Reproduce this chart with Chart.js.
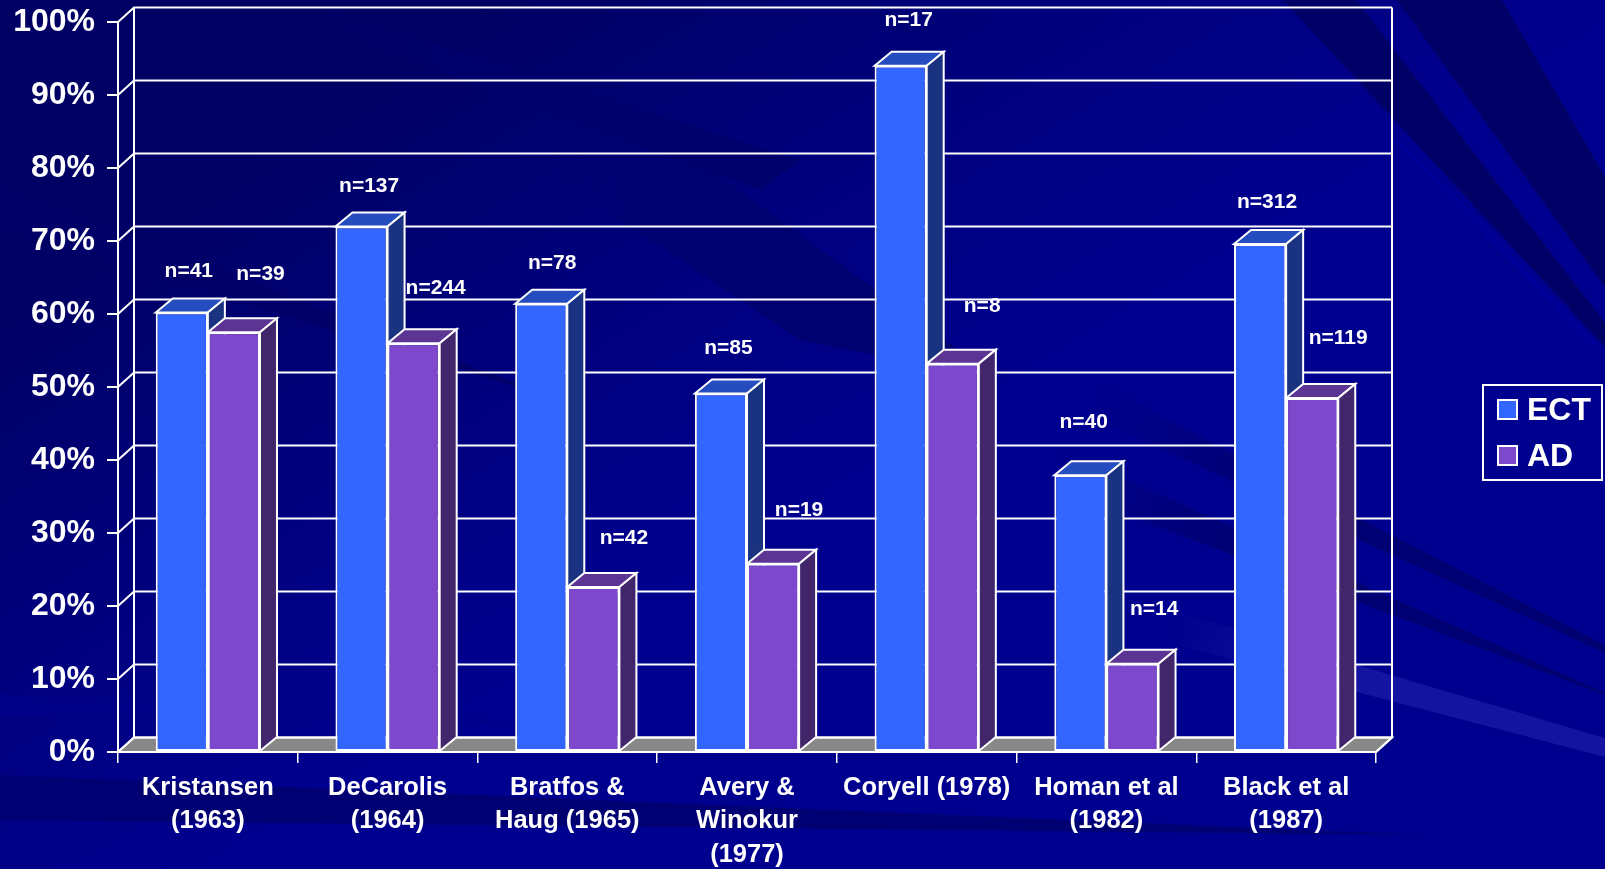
<!DOCTYPE html>
<html>
<head>
<meta charset="utf-8">
<title>ECT vs AD</title>
<style>
html,body{margin:0;padding:0;background:#000088;overflow:hidden}
canvas{display:block}
</style>
<script src="https://cdn.jsdelivr.net/npm/chart.js@4"></script>
</head>
<body>
<canvas id="chart" width="1605" height="869"></canvas>
<script>
// values
const categories = [
    ['Kristansen', '(1963)'],
    ['DeCarolis', '(1964)'],
    ['Bratfos &', 'Haug (1965)'],
    ['Avery &', 'Winokur', '(1977)'],
    'Coryell (1978)',
    ['Homan et al', '(1982)'],
    ['Black et al', '(1987)']
];
const ectValues = [60.2, 72, 61.4, 49.1, 94, 37.9, 69.6];
const adValues = [57.5, 56, 22.6, 25.8, 53.2, 12.1, 48.5];
const ectN = [41, 137, 78, 85, 17, 40, 312];
const adN = [39, 244, 42, 19, 8, 14, 119];

// where the n= labels sit relative to the top of their bar
const ectLabelDx = [7, 7.6, 11, 7.5, 8, 3.3, 7];
const ectLabelDy = [-41.5, -40, -41, -45, -46, -53, -42];
const adLabelDx = [26.6, 22, 30.6, 26, 29.4, 21.7, 26];
const adLabelDy = [-57.7, -55, -49, -53, -57, -54, -60];

const FONT = '"Liberation Sans", Arial, sans-serif';
const WHITE = '#ffffff';
const wallDx = 16, wallDy = 14.5;
const barDx = 17, barDy = 14;

// slide background bands: rgb, corners, and whether the start fades in
const bands = [
    ['0,0,102', [[1397,0],[1502,0],[1605,177],[1605,287]]],
    ['0,0,102', [[1356,0],[1605,323],[1605,347],[1283,0]]],
    ['0,0,150', [[1393,140],[1400,140],[1600,345],[1590,345]], true],
    ['0,0,112', [[560,60],[1000,380],[800,340],[560,180]], true],
    ['0,0,108', [[300,0],[800,160],[760,190],[300,20]], true],
    ['0,0,104', [[0,185],[560,400],[0,228]]],
    ['0,0,114', [[1100,385],[1605,645],[1605,653],[1100,420]], true],
    ['0,0,114', [[1060,450],[1605,693],[1605,695],[1060,490]], true],
    ['20,20,160', [[1170,610],[1605,738],[1605,757],[1170,643]], true],
    ['0,0,114', [[0,775],[1424,835],[0,820]]],
    ['0,0,134', [[0,694],[520,722],[0,716]]]
];

function poly(ctx, pts, fill, stroke) {
    ctx.beginPath();
    pts.forEach(function(p, i) {
        if (i === 0) ctx.moveTo(p[0], p[1]);
        else ctx.lineTo(p[0], p[1]);
    });
    ctx.closePath();
    if (fill) { ctx.fillStyle = fill; ctx.fill(); }
    if (stroke) { ctx.strokeStyle = stroke; ctx.lineWidth = 2; ctx.stroke(); }
}

const backdrop = {
    id: 'backdrop',
    beforeDraw: function(chart) {
        const ctx = chart.ctx;
        const g = ctx.createLinearGradient(500, 0, 800, 500);
        g.addColorStop(0, '#000064');
        g.addColorStop(0.5, '#00007c');
        g.addColorStop(1, '#00008e');
        ctx.save();
        ctx.fillStyle = g;
        ctx.fillRect(0, 0, chart.width, chart.height);
        bands.forEach(function(b) {
            let fill = 'rgb(' + b[0] + ')';
            if (b[2]) {
                const p = b[1];
                const f = ctx.createLinearGradient(p[0][0], p[0][1], p[1][0], p[1][1]);
                f.addColorStop(0, 'rgba(' + b[0] + ',0)');
                f.addColorStop(0.35, fill);
                f.addColorStop(1, fill);
                fill = f;
            }
            poly(ctx, b[1], fill);
        });
        ctx.restore();
    }
};

// back walls, floor and the depth faces of the bars
const walls3d = {
    id: 'walls3d',
    beforeDatasetsDraw: function(chart) {
        const ctx = chart.ctx, y = chart.scales.y, a = chart.chartArea;
        const l = a.left, r = a.right, b = a.bottom;
        ctx.save();
        poly(ctx, [[l,b],[l+wallDx,b-wallDy],[r+wallDx,b-wallDy],[r,b]], '#888888', WHITE);
        ctx.strokeStyle = WHITE;
        ctx.lineWidth = 2;
        y.ticks.forEach(function(t) {
            const py = y.getPixelForValue(t.value);
            ctx.beginPath();
            ctx.moveTo(l, py);
            ctx.lineTo(l + wallDx, py - wallDy);
            ctx.lineTo(r + wallDx, py - wallDy);
            ctx.stroke();
        });
        ctx.beginPath();
        ctx.moveTo(l + wallDx, a.top - wallDy);
        ctx.lineTo(l + wallDx, b - wallDy);
        ctx.moveTo(r + wallDx, a.top - wallDy);
        ctx.lineTo(r + wallDx, b - wallDy);
        ctx.lineTo(r, b);
        ctx.stroke();

        const shades = [['#264dbf', '#1a3380'], ['#5b3494', '#41266b']];
        [0, 1].forEach(function(d) {
            chart.getDatasetMeta(d).data.forEach(function(bar) {
                const p = bar.getProps(['x', 'y', 'base', 'width'], true);
                const x0 = p.x - p.width / 2, x1 = p.x + p.width / 2;
                poly(ctx, [[x0,p.y],[x0+barDx,p.y-barDy],[x1+barDx,p.y-barDy],[x1,p.y]], shades[d][0], WHITE);
                poly(ctx, [[x1,p.y],[x1+barDx,p.y-barDy],[x1+barDx,p.base-barDy],[x1,p.base]], shades[d][1], WHITE);
            });
        });
        ctx.restore();
    },
    afterDatasetsDraw: function(chart) {
        const ctx = chart.ctx;
        ctx.save();
        ctx.fillStyle = WHITE;
        ctx.font = 'bold 21px ' + FONT;
        ctx.textAlign = 'center';
        ctx.textBaseline = 'middle';
        chart.getDatasetMeta(0).data.forEach(function(bar, i) {
            ctx.fillText('n=' + ectN[i], bar.x + ectLabelDx[i], bar.y + ectLabelDy[i]);
        });
        chart.getDatasetMeta(1).data.forEach(function(bar, i) {
            ctx.fillText('n=' + adN[i], bar.x + adLabelDx[i], bar.y + adLabelDy[i]);
        });
        ctx.restore();
    }
};

// legend sits apart from the plot, so it is drawn by hand
const sideLegend = {
    id: 'sideLegend',
    afterDraw: function(chart) {
        const ctx = chart.ctx;
        ctx.save();
        ctx.strokeStyle = WHITE;
        ctx.lineWidth = 2;
        ctx.strokeRect(1483, 385, 119, 95);
        ctx.font = 'bold 32px ' + FONT;
        ctx.textBaseline = 'middle';
        chart.data.datasets.forEach(function(ds, i) {
            const top = 400 + i * 46;
            ctx.fillStyle = ds.backgroundColor;
            ctx.fillRect(1498, top, 19, 19);
            ctx.strokeRect(1498, top, 19, 19);
            ctx.fillStyle = WHITE;
            ctx.fillText(ds.label, 1527, top + 11);
        });
        ctx.restore();
    }
};

new Chart(document.getElementById('chart').getContext('2d'), {
    type: 'bar',
    data: {
        labels: categories,
        datasets: [
            {label: 'ECT', data: ectValues, backgroundColor: '#3366ff'},
            {label: 'AD', data: adValues, backgroundColor: '#7d48cc'}
        ]
    },
    options: {
        responsive: false,
        animation: false,
        layout: {padding: {top: 22, right: 229, left: 0, bottom: 0}},
        datasets: {
            bar: {
                categoryPercentage: 0.58,
                barPercentage: 1,
                borderColor: WHITE,
                borderWidth: 2,
                borderSkipped: false
            }
        },
        plugins: {
            legend: {display: false},
            tooltip: {enabled: false}
        },
        scales: {
            x: {
                afterFit: function(s) { s.height = 117; },
                grid: {drawOnChartArea: false, color: WHITE, tickLength: 11, lineWidth: 1.5},
                border: {color: WHITE, width: 2},
                ticks: {
                    color: WHITE,
                    padding: 8,
                    autoSkip: false,
                    maxRotation: 0,
                    font: {family: FONT, size: 25.5, weight: 'bold', lineHeight: 1.31}
                }
            },
            y: {
                min: 0,
                max: 100,
                afterFit: function(s) { s.width = 118; s.paddingTop = 0; },
                grid: {drawOnChartArea: false, color: WHITE, tickLength: 11, lineWidth: 2},
                border: {color: WHITE, width: 2},
                ticks: {
                    color: WHITE,
                    stepSize: 10,
                    padding: 12,
                    font: {family: FONT, size: 32, weight: 'bold'},
                    callback: function(v) { return v + '%'; }
                }
            }
        }
    },
    plugins: [backdrop, walls3d, sideLegend]
});
</script>
</body>
</html>
